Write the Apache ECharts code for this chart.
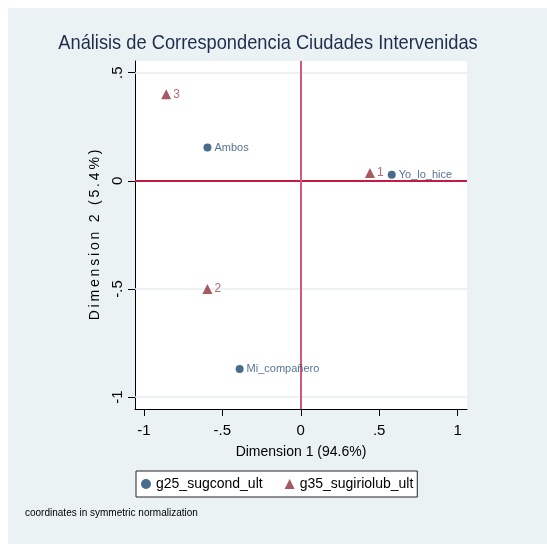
<!DOCTYPE html>
<html><head><meta charset="utf-8">
<script src="https://cdn.jsdelivr.net/npm/echarts@6/dist/echarts.min.js"></script>
<style>html,body{margin:0;padding:0;background:#fff}#c{width:547px;height:544px}</style>
</head><body><div id="c"></div>
<script>
const rowNames = ['Ambos', 'Yo_lo_hice', 'Mi_compañero'];
const rowX = [-0.595, 0.58, -0.39];
const rowY = [0.154, 0.028, -0.87];
const colNames = ['1', '2', '3'];
const colX = [0.441, -0.595, -0.858];
const colY = [0.036, -0.50, 0.40];
const xTicks = [-1, -0.5, 0, 0.5, 1];
const yTicks = [-1, -0.5, 0, 0.5];
const gridLines = [-1, -0.5, 0.5];
const seriesNames = ['g25_sugcond_ult', 'g35_sugiriolub_ult'];
const titleText = 'Análisis de Correspondencia Ciudades Intervenidas';
const xName = 'Dimension 1 (94.6%)';
const yName = 'Dimension 2 (5.4%)';
const noteText = 'coordinates in symmetric normalization';

const FONT = 'Liberation Sans, Arial, sans-serif';
const fmt = v => {
  if (v === 0) return '0';
  return String(v).replace(/^(-?)0\./, '$1.');
};
const spaced = s => s.split('').join('\u2009');
const navy = '#1a476f', maroon = '#8e2f39';

const chart = echarts.init(document.getElementById('c'));
chart.setOption({
  backgroundColor: '#ffffff',
  animation: false,
  graphic: [
    { type: 'rect', z: -10, shape: { x: 8, y: 8, width: 539, height: 536 }, style: { fill: '#eaf2f3' } },
    { type: 'text', x: 268, y: 43, scaleX: 0.87,
      style: { text: titleText, font: '21px ' + FONT, fill: '#1f2d4d', textAlign: 'center', verticalAlign: 'middle' } },
    { type: 'text', x: 25, y: 513, style: { text: noteText, font: '10px ' + FONT, fill: '#000', verticalAlign: 'middle' } }
  ],
  legend: {
    left: 136, top: 471,
    backgroundColor: '#fff', borderColor: '#222', borderWidth: 1,
    padding: [6, 4, 6, 5], itemGap: 22, itemWidth: 10, itemHeight: 10,
    textStyle: { fontFamily: FONT, fontSize: 14, color: '#000' },
    data: [
      { name: seriesNames[0], icon: 'circle' },
      { name: seriesNames[1], icon: 'triangle' }
    ]
  },
  grid: { left: 135, top: 61, right: 80, bottom: 135, show: true, backgroundColor: '#fff', borderWidth: 0 },
  xAxis: {
    type: 'value', min: -1.057, max: 1.06,
    name: xName, nameLocation: 'middle', nameGap: 36,
    nameTextStyle: { fontFamily: FONT, fontSize: 14, color: '#000' },
    axisLine: { onZero: false, lineStyle: { color: '#000', width: 1 } },
    axisTick: { customValues: xTicks, length: 7, lineStyle: { color: '#000' } },
    axisLabel: { customValues: xTicks, formatter: fmt, margin: 14, fontFamily: FONT, fontSize: 15, color: '#000' },
    splitLine: { show: false }
  },
  yAxis: {
    type: 'value', min: -1.055, max: 0.554,
    name: spaced(yName), nameLocation: 'middle', nameGap: 22, nameRotate: 90,
    nameTextStyle: { fontFamily: FONT, fontSize: 14, color: '#000' },
    axisLine: { onZero: false, lineStyle: { color: '#000', width: 1 } },
    axisTick: { customValues: yTicks, length: 7, lineStyle: { color: '#000' } },
    axisLabel: { customValues: yTicks, formatter: fmt, rotate: 90, margin: 10, fontFamily: FONT, fontSize: 15, color: '#000' },
    splitLine: { show: false }
  },
  series: [
    {
      name: seriesNames[0], type: 'scatter', symbol: 'circle', symbolSize: 8,
      itemStyle: { color: navy },
      label: { show: true, position: 'right', distance: 3, formatter: p => rowNames[p.dataIndex], fontFamily: FONT, fontSize: 11, color: '#2b4f7c' },
      data: rowX.map((x, i) => [x, rowY[i]]),
      z: 5,
      markLine: {
        silent: true, symbol: 'none', label: { show: false }, animation: false,
        lineStyle: { color: '#e6eef0', width: 1.5, type: 'solid' },
        data: gridLines.map(v => ({ yAxis: v })),
        z: 1
      }
    },
    {
      name: seriesNames[1], type: 'scatter', symbol: 'triangle', symbolSize: 10,
      itemStyle: { color: maroon },
      label: { show: true, position: 'right', distance: 2, formatter: p => colNames[p.dataIndex], fontFamily: FONT, fontSize: 12, color: '#a3434c' },
      data: colX.map((x, i) => [x, colY[i]]),
      z: 5
    },
    {
      name: 'zero', type: 'scatter', data: [], silent: true,
      markLine: {
        silent: true, symbol: 'none', label: { show: false }, animation: false,
        data: [
          { yAxis: 0, lineStyle: { color: '#c41a45', width: 2, type: 'solid' } },
          { xAxis: 0, lineStyle: { color: '#d4587a', width: 2, type: 'solid' } }
        ]
      }
    }
  ]
});
</script></body></html>
